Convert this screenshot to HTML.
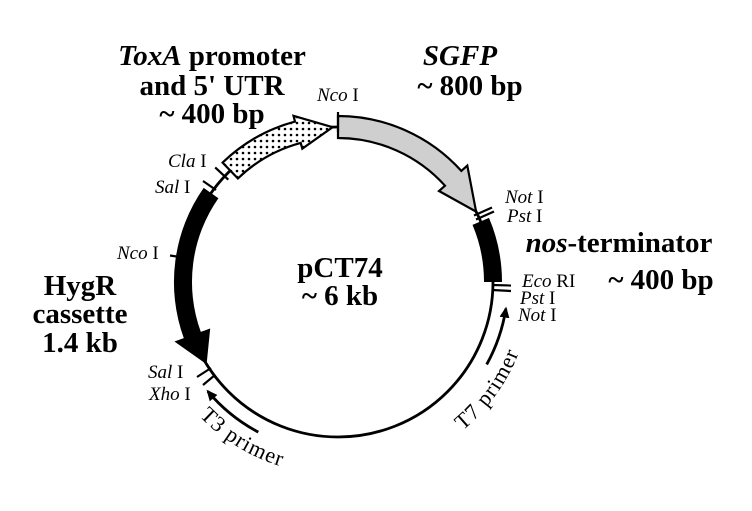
<!DOCTYPE html>
<html><head><meta charset="utf-8"><style>
html,body{margin:0;padding:0;background:#fff;}
svg{display:block;}
.b{font-family:"Liberation Serif",serif;font-weight:bold;font-size:29px;fill:#000;}
.s{font-family:"Liberation Serif",serif;font-size:19px;fill:#000;}
.p{font-family:"Liberation Serif",serif;font-size:22px;fill:#000;letter-spacing:1px;}
</style></head><body>
<svg width="752" height="511" viewBox="0 0 752 511" xmlns="http://www.w3.org/2000/svg">
<defs>
<pattern id="dots" width="6" height="6" patternUnits="userSpaceOnUse">
<rect width="6" height="6" fill="#fff"/><circle cx="3" cy="3" r="1.3" fill="#000"/>
</pattern>
<marker id="ah" markerWidth="11" markerHeight="10" refX="9" refY="5" orient="auto" markerUnits="userSpaceOnUse">
<path d="M0,0 L11,5 L0,10 Z" fill="#000"/>
</marker>
<path id="t3" d="M199.2,416.1 A193 193 0 0 0 354.8,474.3"/>
<path id="t7" d="M462.7,430.6 A192 192 0 0 0 529.1,315.7"/>
</defs>
<circle cx="338" cy="282" r="155" fill="none" stroke="#000" stroke-width="2.8"/>
<path d="M222.6,162.6 A166,166 0 0 1 295,121.6 L293.5,115.8 L332.6,127.2 L302.3,148.7 L300.7,142.9 A144,144 0 0 0 237.9,178.5 Z" fill="url(#dots)" stroke="#000" stroke-width="2.2"/>
<path d="M338,116 A166 166 0 0 1 461.3,170.9 L467.3,165.6 L476.1,211.6 L439,191 L445,185.7 A144 144 0 0 0 338,138 Z" fill="#cfcfcf" stroke="#000" stroke-width="2.2"/>
<path d="M489,217.9 A164 164 0 0 1 502,282 L484,282 A146 146 0 0 0 472.5,224.9 Z" fill="#000"/>
<path d="M203.7,187.9 A164 164 0 0 0 183.8,338.1 L174.4,341.5 L206.6,364.2 L210.2,328.5 L200.8,331.9 A146 146 0 0 1 218.4,198.2 Z" fill="#000"/>
<g stroke="#000" stroke-width="2.2">
<line x1="338" y1="112" x2="338" y2="132"/>
<line x1="228.3" y1="179.7" x2="215.2" y2="167.4"/>
<line x1="216" y1="190" x2="203" y2="181"/>
<line x1="474" y1="215.5" x2="492" y2="207.5"/>
<line x1="476" y1="219.5" x2="494" y2="211.5"/>
<line x1="492" y1="285" x2="511" y2="285.5"/>
<line x1="492" y1="290" x2="511" y2="291"/>
<line x1="188" y1="258.2" x2="170" y2="255.5"/>
<line x1="211" y1="368" x2="197" y2="377"/>
<line x1="215" y1="375" x2="203" y2="385"/>
</g>
<path d="M486.7,364.4 A170 170 0 0 0 505.9,308.6" fill="none" stroke="#000" stroke-width="2.8" marker-end="url(#ah)"/>
<path d="M258.3,432.1 A170 170 0 0 1 207.8,391.3" fill="none" stroke="#000" stroke-width="2.8" marker-end="url(#ah)"/>
<text class="p"><textPath href="#t3">T3 primer</textPath></text>
<text class="p"><textPath href="#t7">T7 primer</textPath></text>
<text class="b" x="212" y="65" text-anchor="middle"><tspan font-style="italic">ToxA</tspan> promoter</text>
<text class="b" x="212" y="95" text-anchor="middle">and 5' UTR</text>
<text class="b" x="212" y="123" text-anchor="middle">~ 400 bp</text>
<text class="b" x="460" y="65" text-anchor="middle" font-style="italic">SGFP</text>
<text class="b" x="470" y="95" text-anchor="middle">~ 800 bp</text>
<text class="b" x="80" y="295" text-anchor="middle">HygR</text>
<text class="b" x="80" y="323" text-anchor="middle">cassette</text>
<text class="b" x="80" y="352" text-anchor="middle">1.4 kb</text>
<text class="b" x="619" y="252" text-anchor="middle"><tspan font-style="italic">nos</tspan>-terminator</text>
<text class="b" x="661" y="289" text-anchor="middle">~ 400 bp</text>
<text class="b" x="340" y="277" text-anchor="middle">pCT74</text>
<text class="b" x="340" y="305" text-anchor="middle">~ 6 kb</text>
<text class="s" x="317" y="101"><tspan font-style="italic">Nco</tspan> I</text>
<text class="s" x="168" y="167"><tspan font-style="italic">Cla</tspan> I</text>
<text class="s" x="155" y="193"><tspan font-style="italic">Sal</tspan> I</text>
<text class="s" x="117" y="259"><tspan font-style="italic">Nco</tspan> I</text>
<text class="s" x="505" y="203"><tspan font-style="italic">Not</tspan> I</text>
<text class="s" x="507" y="222"><tspan font-style="italic">Pst</tspan> I</text>
<text class="s" x="522" y="287"><tspan font-style="italic">Eco</tspan> RI</text>
<text class="s" x="520" y="304"><tspan font-style="italic">Pst</tspan> I</text>
<text class="s" x="518" y="321"><tspan font-style="italic">Not</tspan> I</text>
<text class="s" x="148" y="378"><tspan font-style="italic">Sal</tspan> I</text>
<text class="s" x="149" y="400"><tspan font-style="italic">Xho</tspan> I</text>
</svg>
</body></html>
